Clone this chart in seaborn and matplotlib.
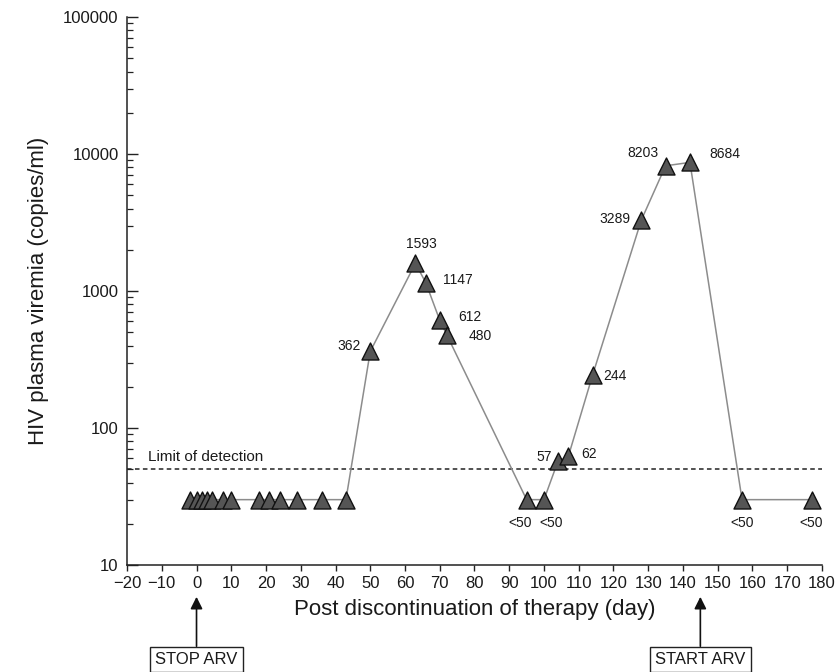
import matplotlib
matplotlib.use("Agg")
import matplotlib.pyplot as plt
import seaborn as sns
import pandas as pd
import numpy as np
from matplotlib.ticker import LogLocator, NullFormatter, FixedLocator

# ---- data ----
days = [-2, 0, 1.5, 3, 4.5, 7.5, 10, 18, 21, 24, 29, 36, 43,
        50, 63, 66, 70, 72, 95, 100, 104, 107, 114, 128, 135, 142, 157, 177]
viremia = [30] * 13 + [362, 1593, 1147, 612, 480, 30, 30, 57, 62, 244,
                       3289, 8203, 8684, 30, 30]
label_texts = ["362", "1593", "1147", "612", "480", "<50", "<50", "57", "62",
               "244", "3289", "8203", "8684", "<50", "<50"]
detection_limit = 50
x_ticks = list(range(-20, 181, 10))
y_ticks = [10, 100, 1000, 10000, 100000]
stop_day = 0
start_day = 145

# label placement (offset in points, horizontal alignment) for labelled points
label_style = [((-7, 4), "right"), ((4, 14), "center"), ((12, 2), "left"),
               ((13, 2), "left"), ((16, -1), "left"), ((-5, -17), "center"),
               ((5, -17), "center"), ((-4, 3), "right"), ((9, 2), "left"),
               ((8, -1), "left"), ((-8, 1), "right"), ((-5, 9), "right"),
               ((14, 6), "left"), ((0, -17), "center"), ((0, -17), "center")]

df = pd.DataFrame({"day": days, "viremia": viremia})

sns.set_style("ticks")
plt.rcParams["font.family"] = ["Liberation Sans", "DejaVu Sans"]
text_color = "#1a1a1a"

fig = plt.figure(figsize=(8.39, 6.72), dpi=100)
ax = fig.add_axes([0.1514, 0.1592, 0.8283, 0.8155])

sns.lineplot(data=df, x="day", y="viremia", sort=False, color="#8c8c8c",
             lw=1.1, ax=ax, zorder=2)
sns.scatterplot(data=df, x="day", y="viremia", marker="^", s=150,
                color="#555555", edgecolor="#111111", linewidth=1.0,
                ax=ax, zorder=3)

ax.set_yscale("log")
ax.set_xlim(-20, 180)
ax.set_ylim(10, 100000)

ax.axhline(detection_limit, color="#222222", ls=(0, (3, 2.2)), lw=1.1, zorder=1)
ax.text(-14, detection_limit * 1.1, "Limit of detection", fontsize=11,
        color=text_color, ha="left", va="bottom")

labelled_days = days[13:]
labelled_vals = viremia[13:]
for d, v, t, (off, ha) in zip(labelled_days, labelled_vals, label_texts, label_style):
    ax.annotate(t, xy=(d, v), xytext=off, textcoords="offset points",
                ha=ha, va="center", fontsize=10, color=text_color)

ax.xaxis.set_major_locator(FixedLocator(x_ticks))
ax.set_xticklabels([str(t).replace("-", "\u2212") for t in x_ticks])
ax.yaxis.set_major_locator(FixedLocator(y_ticks))
ax.set_yticklabels([str(t) for t in y_ticks])
ax.yaxis.set_minor_locator(LogLocator(base=10, subs=np.arange(2, 10)))
ax.yaxis.set_minor_formatter(NullFormatter())

ax.tick_params(axis="y", which="major", direction="in", length=8, width=1,
               labelsize=12, colors="#222222", labelcolor=text_color, pad=6)
ax.tick_params(axis="y", which="minor", direction="in", length=4, width=0.9,
               colors="#222222")
ax.tick_params(axis="x", which="major", direction="out", length=4, width=1,
               labelsize=12, colors="#222222", labelcolor=text_color, pad=4)

sns.despine(ax=ax)
for s in ("left", "bottom"):
    ax.spines[s].set_color("#222222")
    ax.spines[s].set_linewidth(1.1)

ax.set_xlabel("Post discontinuation of therapy (day)", fontsize=16,
              color=text_color, labelpad=6)
ax.set_ylabel("HIV plasma viremia (copies/ml)", fontsize=16,
              color=text_color, labelpad=10)

trans = ax.get_xaxis_transform()
for d, t in [(stop_day, "STOP ARV"), (start_day, "START ARV")]:
    ax.annotate(t, xy=(d, -0.058), xycoords=trans,
                xytext=(d, -0.172), textcoords=trans,
                ha="center", va="center", fontsize=12, color=text_color,
                bbox=dict(boxstyle="square,pad=0.3", fc="white", ec="#222222", lw=1),
                arrowprops=dict(arrowstyle="-|>", color="#111111", lw=1.2,
                                mutation_scale=18, shrinkA=0, shrinkB=0),
                annotation_clip=False)

fig.savefig("out.png", dpi=100)
